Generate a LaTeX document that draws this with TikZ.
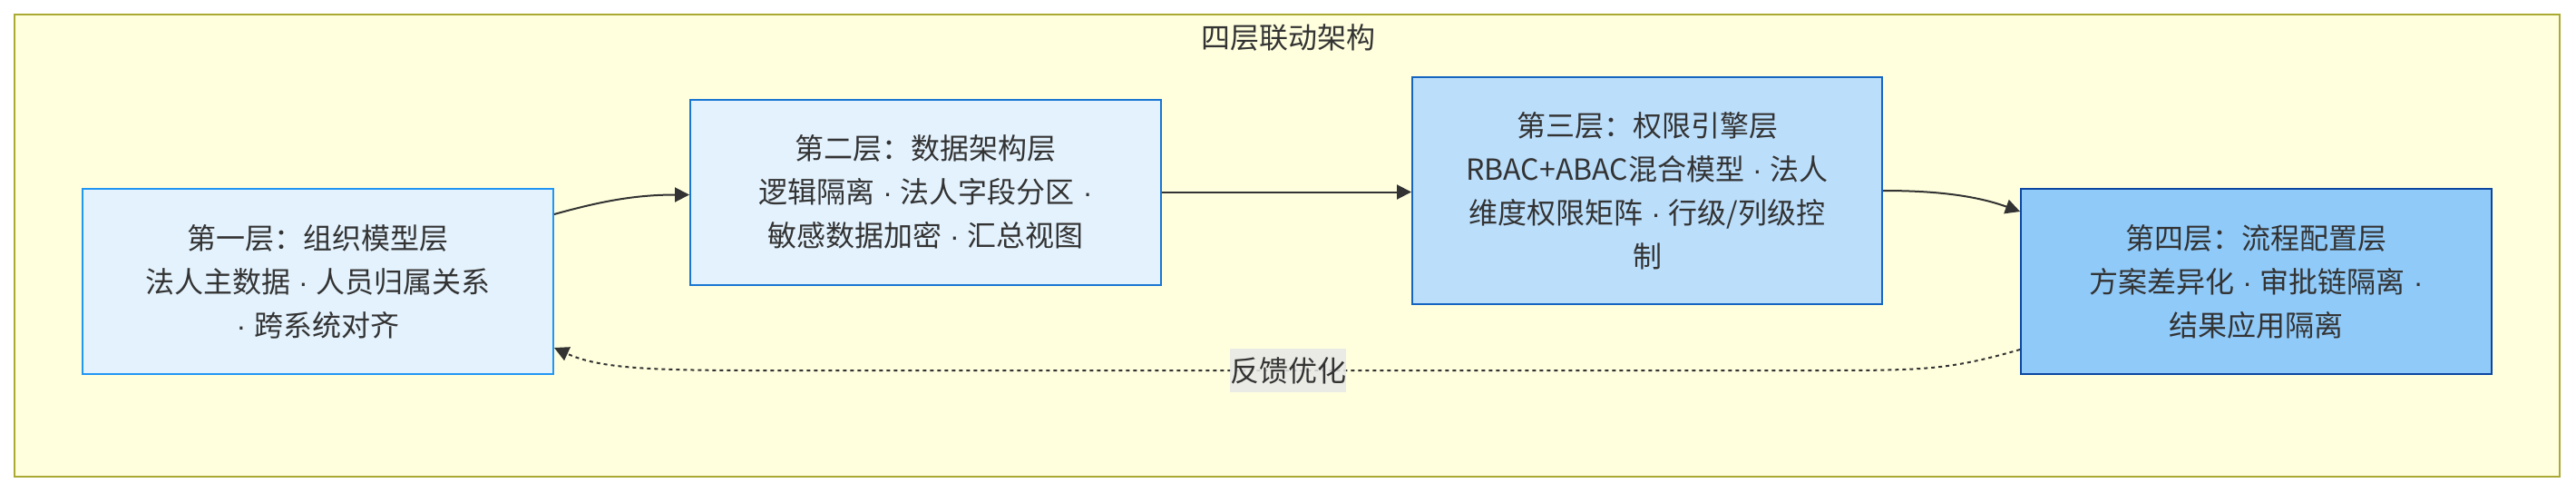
\documentclass[tikz,border=0pt]{standalone}
\usepackage{fontspec}
\setmainfont{Noto Sans CJK SC}
\newfontfamily\latf{Liberation Sans}
\newcommand\mdsep{{\latf{} · }}
\newcommand\mdlead{{\latf{}· }}
\newcommand\mdtail{{\latf{} ·}}
\usetikzlibrary{arrows.meta}
\definecolor{frameFill}{HTML}{FFFFDE}
\definecolor{frameLine}{HTML}{AAAA33}
\definecolor{txt}{HTML}{333333}
\definecolor{fillA}{HTML}{E3F2FD}
\definecolor{lineA}{HTML}{2196F3}
\definecolor{fillB}{HTML}{E3F2FD}
\definecolor{lineB}{HTML}{1976D2}
\definecolor{fillC}{HTML}{BBDEFB}
\definecolor{lineC}{HTML}{1565C0}
\definecolor{fillD}{HTML}{90CAF9}
\definecolor{lineD}{HTML}{0D47A1}
\definecolor{lblFill}{HTML}{E8E8E8}
\tikzset{
  txtfont/.style={font=\fontsize{16pt}{24pt}\selectfont, text=txt},
  layer/.style={txtfont, rectangle, line width=1pt, inner sep=0pt, align=center, minimum width=259.5pt, minimum height=102pt},
  frame/.style={fill=frameFill, draw=frameLine, line width=1pt},
  link/.style={draw=txt, line width=1pt, -{Triangle[length=8pt,width=8pt]}},
  feedback/.style={link, dash pattern=on 2pt off 2pt},
  lbl/.style={txtfont, fill=lblFill, fill opacity=0.85, text opacity=1, inner sep=0pt, minimum width=64pt, minimum height=24pt}
}
\begin{document}
\begin{tikzpicture}[x=1pt,y=-1pt]
\useasboundingbox (0,0) rectangle (1420,271);
\draw[frame] (8,8) rectangle (1411,262.5);
\node[txtfont] (title) at (710,20.5) {四层联动架构};
\node[layer, fill=fillA, draw=lineA] (n1) at (175.25,155) {第一层：组织模型层\\法人主数据\mdsep 人员归属关系\\\mdlead 跨系统对齐};
\node[layer, fill=fillB, draw=lineB] (n2) at (510.25,105.75) {第二层：数据架构层\\逻辑隔离\mdsep 法人字段分区\mdtail\\敏感数据加密\mdsep 汇总视图};
\node[layer, fill=fillC, draw=lineC, minimum width=259pt, minimum height=125pt] (n3) at (908,105) {第三层：权限引擎层\\RBAC+ABAC混合模型\mdsep 法人\\维度权限矩阵\mdsep 行级/列级控\\制};
\node[layer, fill=fillD, draw=lineD] (n4) at (1243.75,155) {第四层：流程配置层\\方案差异化\mdsep 审批链隔离\mdtail\\结果应用隔离};
\draw[link] ([yshift=37pt]n1.east) .. controls +(25,-7) and +(-30,0) .. ([yshift=-1.5pt]n2.west);
\draw[link] (n2.east) -- (n2.east -| n3.west);
\draw[link] (n3.east) .. controls +(28,0) and +(-25,-9) .. ([yshift=38.5pt]n4.west);
\draw[feedback] ([yshift=-37.5pt]n4.west) .. controls +(-40,11.5) and +(60,0) .. ++(-114,11.5) -- ++(-580,0) .. controls +(-60,0) and +(25,11.5) .. ([yshift=-36.5pt]n1.east);
\node[lbl] (fb) at (710,204) {反馈优化};
\end{tikzpicture}
\end{document}
